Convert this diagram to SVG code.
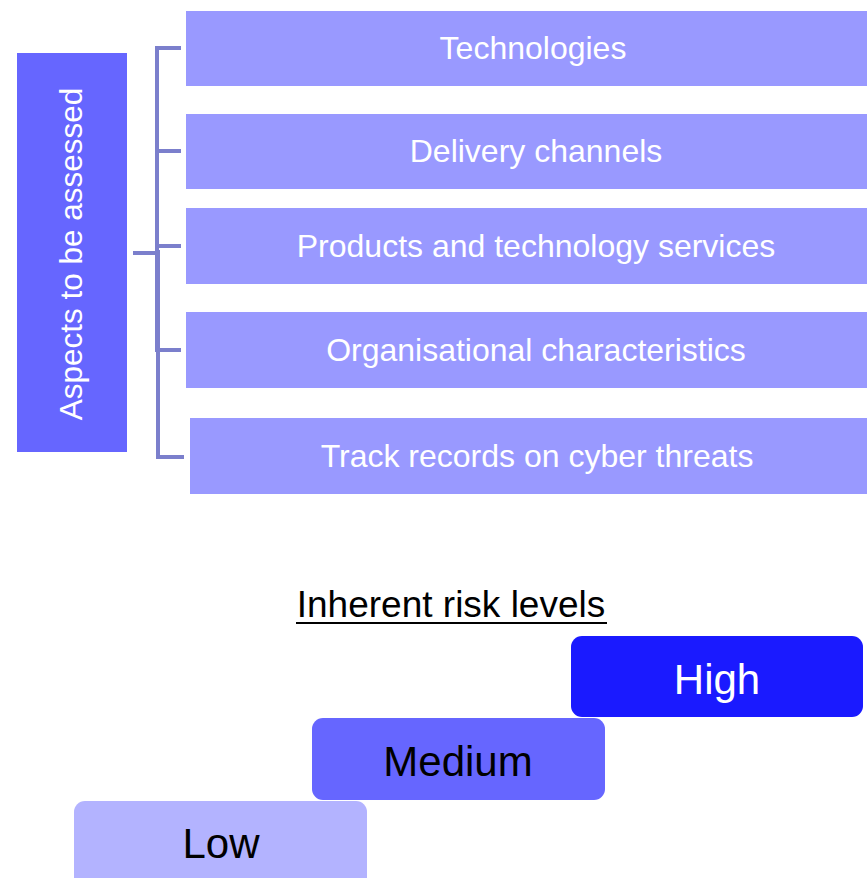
<svg xmlns="http://www.w3.org/2000/svg" width="867" height="878" viewBox="0 0 867 878">
<style>
text{font-family:"Liberation Sans",Arial,sans-serif;text-anchor:middle}
.aspect{fill:#9999FF}
.at{fill:#FFFFFF;font-size:32px}
.lvl{font-size:42px}
.br{fill:none;stroke:#7B7FCC;stroke-width:4}
</style>
<rect width="867" height="878" fill="#FFFFFF"/>
<g id="aspects-label">
<rect x="17" y="53" width="110" height="399" fill="#6666FF"/>
<text class="at" style="font-size:31.5px" transform="translate(82,254) rotate(-90)">Aspects to be assessed</text>
</g>
<g id="connectors">
<path class="br" d="M181,48 H157 V352 M157,151 H181 M157,246 H181"/>
<path class="br" d="M158,250 V457 H184 M158,350 H181"/>
<path class="br" d="M133,253 H158"/>
</g>
<g id="technologies">
<rect class="aspect" x="186" y="11" width="681" height="75"/>
<text class="at" x="533" y="59">Technologies</text>
</g>
<g id="delivery-channels">
<rect class="aspect" x="186" y="114" width="681" height="75"/>
<text class="at" x="536" y="162">Delivery channels</text>
</g>
<g id="products">
<rect class="aspect" x="186" y="208" width="681" height="76"/>
<text class="at" x="536" y="257">Products and technology services</text>
</g>
<g id="organisational">
<rect class="aspect" x="186" y="312" width="681" height="76"/>
<text class="at" x="536" y="361">Organisational characteristics</text>
</g>
<g id="track-records">
<rect class="aspect" x="190" y="418" width="677" height="76"/>
<text class="at" x="537" y="467">Track records on cyber threats</text>
</g>
<g id="title">
<text x="451" y="617" font-size="37" fill="#000000">Inherent risk levels</text>
<line x1="296" y1="623" x2="607" y2="623" stroke="#000000" stroke-width="2"/>
</g>
<g id="high">
<rect x="571" y="636" width="292" height="81" rx="11" fill="#1A1AFF"/>
<text class="lvl" x="717" y="694" fill="#FFFFFF">High</text>
</g>
<g id="medium">
<rect x="312" y="718" width="293" height="82" rx="11" fill="#6666FF"/>
<text class="lvl" x="458" y="776" fill="#000000">Medium</text>
</g>
<g id="low">
<rect x="74" y="801" width="293" height="90" rx="11" fill="#B3B3FF"/>
<text class="lvl" x="221" y="858" fill="#000000">Low</text>
</g>
</svg>
